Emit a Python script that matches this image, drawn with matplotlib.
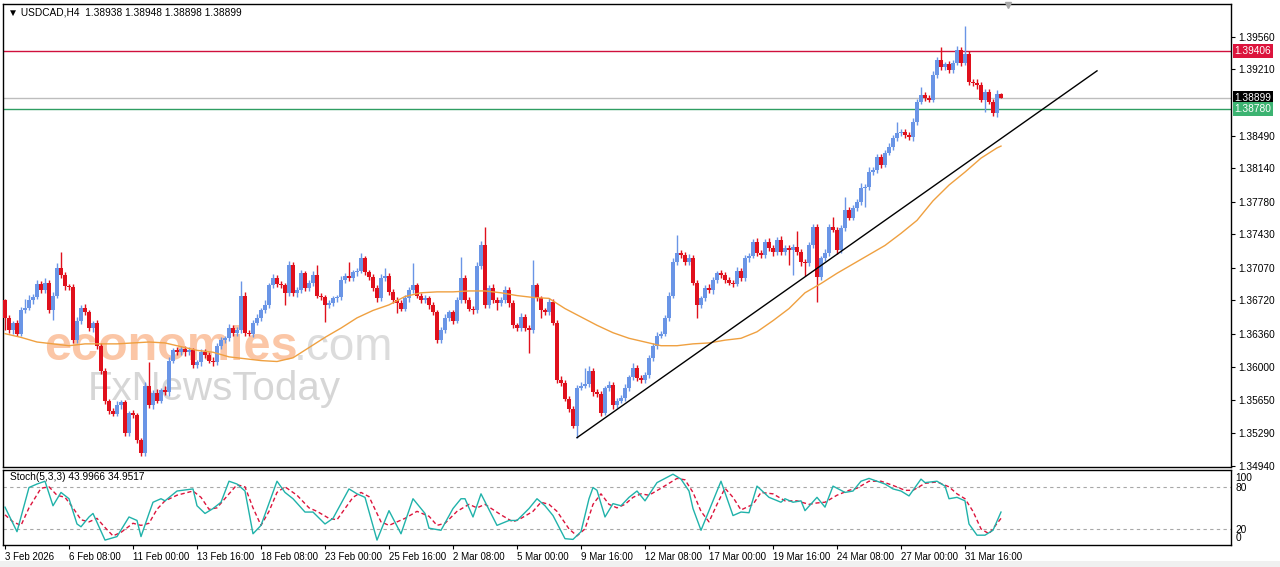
import matplotlib
matplotlib.use("Agg")
import matplotlib.pyplot as plt
from matplotlib.patches import Rectangle

plt.rcParams['font.family'] = ['Liberation Sans', 'DejaVu Sans']

# ---------------- data ----------------
symbol_header = "\u25BC USDCAD,H4  1.38938 1.38948 1.38898 1.38899"
stoch_header = "Stoch(5,3,3) 43.9966 34.9517"

first_open = 1.3672
closes = [
    1.3653, 1.3640, 1.3648, 1.3636, 1.3661, 1.3664, 1.3672, 1.3676, 1.3690, 1.3683,
    1.3691, 1.3661, 1.3677, 1.3707, 1.3699, 1.3687, 1.3686, 1.3629, 1.3650, 1.3664,
    1.3659, 1.3642, 1.3647, 1.3623, 1.3596, 1.3564, 1.3553, 1.3550, 1.3559, 1.3562,
    1.3529, 1.3551, 1.3548, 1.3521, 1.3507, 1.3580, 1.3559, 1.3572, 1.3564, 1.3575,
    1.3573, 1.3607, 1.3618, 1.3616, 1.3620, 1.3616, 1.3618, 1.3602, 1.3605, 1.3616,
    1.3613, 1.3607, 1.3605, 1.3623, 1.3629, 1.3631, 1.3642, 1.3637, 1.3640, 1.3677,
    1.3637, 1.3636, 1.3648, 1.3653, 1.3661, 1.3667, 1.3688, 1.3696, 1.3690, 1.3688,
    1.3680, 1.3710, 1.3680, 1.3683, 1.3701, 1.3685, 1.3691, 1.3699, 1.3677, 1.3675,
    1.3667, 1.3669, 1.3674, 1.3675, 1.3694, 1.3698, 1.3696, 1.3702, 1.3704, 1.3717,
    1.3702, 1.3697, 1.3685, 1.3674, 1.3696, 1.3698, 1.3681, 1.3672, 1.3669, 1.3663,
    1.3674, 1.3683, 1.3688, 1.3677, 1.3672, 1.3674, 1.3667, 1.3659, 1.3629, 1.3640,
    1.3653, 1.3659, 1.3650, 1.3672, 1.3696, 1.3672, 1.3663, 1.3661, 1.3709, 1.3732,
    1.3667, 1.3685, 1.3672, 1.3669, 1.3672, 1.3683, 1.3669, 1.3645, 1.3642, 1.3654,
    1.3642, 1.3640, 1.3688, 1.3674, 1.3661, 1.3659, 1.3670, 1.3648, 1.3586, 1.3583,
    1.3566, 1.3555, 1.3537, 1.3578, 1.3580, 1.3582, 1.3596, 1.3573, 1.3571, 1.3551,
    1.3577, 1.3581, 1.3559, 1.3564, 1.3567, 1.3578, 1.3589, 1.3599, 1.3588, 1.3586,
    1.3591, 1.3610, 1.3623, 1.3634, 1.3636, 1.3653, 1.3677, 1.3713, 1.3723, 1.3721,
    1.3713, 1.3718, 1.3691, 1.3667, 1.3674, 1.3685, 1.3683, 1.3694, 1.3701, 1.3699,
    1.3694, 1.3691, 1.3690, 1.3704, 1.3696, 1.3717, 1.3720, 1.3735, 1.3723, 1.3721,
    1.3735, 1.3728, 1.3724, 1.3737, 1.3724, 1.3728, 1.3726, 1.3729, 1.3724, 1.3713,
    1.3712, 1.3731, 1.3751, 1.3697, 1.3717, 1.3723, 1.3751, 1.3748, 1.3726, 1.3750,
    1.3769, 1.3761, 1.3771, 1.3778, 1.3793, 1.3794, 1.3810, 1.3812, 1.3826, 1.3818,
    1.3831, 1.3837, 1.3847, 1.3852, 1.3853, 1.3850, 1.3848, 1.3864, 1.3886, 1.3893,
    1.3890, 1.3888, 1.3915, 1.3931, 1.3923, 1.3926, 1.3920, 1.3928, 1.3942, 1.3928,
    1.3937, 1.3907, 1.3906, 1.3904, 1.3888, 1.3896, 1.3886, 1.3874, 1.38938, 1.38899,
]
upper_wick_pips = [
    1, 3, 2, 3, 4, 9, 6, 3, 4, 3, 5, 3, 4, 5, 17, 3, 2, 3, 4, 3, 4, 3, 3, 4, 3,
    3, 2, 3, 4, 3, 3, 2, 3, 3, 3, 4, 25, 3, 4, 3, 5, 4, 3, 4, 3, 3, 4, 3, 3, 3,
    3, 3, 4, 3, 3, 3, 4, 3, 3, 16, 4, 3, 3, 4, 3, 5, 3, 4, 3, 3, 3, 4, 3, 3, 4,
    3, 3, 4, 11, 3, 3, 3, 3, 3, 4, 3, 15, 3, 3, 6, 3, 3, 3, 3, 4, 9, 3, 3, 3, 3,
    4, 3, 24, 3, 3, 4, 3, 3, 3, 3, 4, 3, 3, 4, 23, 3, 3, 3, 4, 4, 19, 3, 4, 3, 3,
    4, 3, 3, 3, 4, 3, 3, 27, 3, 3, 3, 4, 3, 3, 4, 3, 3, 3, 3, 4, 17, 5, 3, 3, 3,
    3, 4, 3, 3, 3, 4, 3, 5, 3, 3, 4, 3, 3, 4, 3, 3, 4, 4, 19, 3, 3, 4, 3, 3, 3,
    3, 4, 3, 3, 4, 3, 3, 3, 4, 3, 4, 3, 3, 4, 3, 3, 4, 3, 3, 4, 3, 3, 4, 18, 3,
    3, 4, 3, 3, 3, 4, 3, 11, 3, 3, 14, 3, 4, 3, 5, 3, 5, 3, 4, 3, 3, 4, 3, 12, 3,
    3, 3, 4, 3, 9, 3, 3, 4, 3, 14, 3, 4, 3, 4, 3, 30, 3, 3, 4, 3, 3, 4, 3, 5, 1,
]
lower_wick_pips = [
    13, 3, 4, 3, 3, 3, 3, 4, 3, 3, 3, 3, 10, 3, 3, 4, 3, 3, 3, 4, 3, 3, 4, 3, 3,
    4, 3, 3, 3, 4, 3, 3, 3, 3, 3, 3, 3, 4, 3, 3, 3, 4, 3, 3, 3, 4, 3, 3, 3, 4,
    3, 3, 4, 3, 3, 3, 3, 4, 3, 3, 3, 3, 4, 3, 3, 3, 3, 3, 4, 3, 13, 3, 3, 4, 3,
    3, 3, 4, 3, 3, 18, 3, 3, 4, 3, 3, 3, 3, 4, 3, 3, 3, 3, 4, 3, 3, 3, 3, 11, 3,
    3, 4, 3, 3, 3, 3, 4, 3, 3, 3, 3, 3, 4, 3, 3, 3, 3, 4, 3, 3, 3, 3, 3, 8, 3,
    3, 4, 3, 3, 3, 3, 25, 3, 3, 8, 3, 3, 3, 3, 3, 3, 3, 3, 13, 3, 3, 3, 4, 3, 4,
    3, 3, 4, 3, 3, 3, 4, 3, 3, 3, 3, 3, 3, 4, 3, 3, 3, 3, 3, 4, 3, 3, 3, 14, 3,
    3, 3, 4, 3, 3, 3, 3, 4, 3, 3, 3, 4, 3, 3, 3, 3, 3, 4, 3, 3, 3, 16, 27, 3, 4,
    14, 3, 3, 27, 3, 3, 3, 3, 4, 3, 3, 3, 3, 3, 3, 21, 3, 3, 3, 4, 3, 3, 3, 3, 3,
    3, 3, 4, 3, 3, 3, 3, 3, 4, 3, 3, 3, 3, 3, 4, 3, 3, 3, 4, 3, 13, 3, 4, 5, 0,
]

ma_bars = list(range(0, 249, 4)) + [249]
ma_values = [
    1.3636, 1.3632, 1.3627, 1.3625, 1.3623, 1.3625, 1.3625, 1.3625, 1.3626, 1.3627,
    1.3626, 1.3622, 1.3618, 1.3616, 1.3611, 1.3609, 1.3607, 1.3606, 1.3610, 1.3621,
    1.3632, 1.3642, 1.3653, 1.3661, 1.3667, 1.3676, 1.3680, 1.3681, 1.3681, 1.3682,
    1.3682, 1.3680, 1.3677, 1.3675, 1.3674, 1.3663, 1.3654, 1.3645, 1.3637, 1.3631,
    1.3627, 1.3623, 1.3623, 1.3625, 1.3626, 1.3629, 1.3631, 1.3638, 1.3650, 1.3663,
    1.3680, 1.3690, 1.3701, 1.3711, 1.3721, 1.3731, 1.3744, 1.3758, 1.3779, 1.3796,
    1.3810, 1.3825, 1.3836, 1.3838,
]

trend_bars = [143, 273]
trend_prices = [1.3524, 1.3919]

resistance_level = 1.39406
support_level = 1.38780
last_price = 1.38899

price_ticks = [1.34940, 1.35290, 1.35650, 1.36000, 1.36360, 1.36720, 1.37070,
               1.37430, 1.37780, 1.38140, 1.38490, 1.39210, 1.39560]

date_tick_bars = [0, 16, 32, 48, 64, 80, 96, 112, 128, 144, 160, 176, 192, 208, 224, 240]
date_tick_labels = ["3 Feb 2026", "6 Feb 08:00", "11 Feb 00:00", "13 Feb 16:00",
                    "18 Feb 08:00", "23 Feb 00:00", "25 Feb 16:00", "2 Mar 08:00",
                    "5 Mar 00:00", "9 Mar 16:00", "12 Mar 08:00", "17 Mar 00:00",
                    "19 Mar 16:00", "24 Mar 08:00", "27 Mar 00:00", "31 Mar 16:00"]

stoch_k_bars = [0, 3, 6, 8, 10, 12, 14, 16, 18, 19, 21, 22, 25, 28, 31, 33, 34, 36, 37, 39,
                40, 43, 47, 48, 50, 52, 54, 56, 58, 60, 62, 64, 68, 70, 72, 75, 77, 80, 82, 86,
                88, 90, 93, 96, 99, 102, 105, 106, 109, 112, 114, 115, 117, 119, 123, 126, 128, 131, 133, 135,
                137, 140, 142, 144, 146, 147, 148, 150, 152, 154, 156, 158, 160, 163, 167, 169, 171, 172, 174, 176,
                179, 182, 184, 186, 188, 191, 194, 195, 197, 199, 200, 203, 205, 207, 210, 212, 214, 216, 218, 220,
                222, 224, 226, 229, 230, 233, 235, 236, 238, 240, 241, 243, 245, 247, 249]
stoch_k = [51, 16, 79, 84, 88, 53, 72, 63, 27, 23, 37, 42, 4, 9, 37, 32, 9, 42, 58, 63,
           60, 74, 77, 53, 42, 49, 58, 88, 84, 74, 13, 25, 88, 72, 63, 44, 44, 27, 35, 77,
           70, 65, 4, 46, 13, 63, 42, 21, 18, 49, 63, 63, 37, 70, 25, 32, 32, 49, 63, 53,
           39, 6, 5, 16, 63, 79, 75, 37, 56, 53, 65, 74, 60, 86, 98, 91, 74, 49, 18, 46,
           88, 39, 44, 43, 81, 65, 58, 63, 58, 60, 46, 65, 51, 81, 72, 74, 88, 92, 88, 84,
           77, 74, 67, 91, 86, 88, 81, 63, 65, 60, 27, 11, 11, 18, 44.0]
stoch_d_bars = [0, 2, 4, 6, 9, 11, 13, 15, 17, 19, 21, 23, 25, 27, 29, 32, 34, 36, 38, 40,
                43, 47, 49, 51, 53, 56, 58, 60, 62, 64, 66, 68, 70, 73, 76, 78, 81, 83, 87, 89,
                91, 94, 96, 98, 100, 103, 106, 108, 110, 113, 116, 118, 120, 124, 127, 129, 132, 134, 136, 138,
                141, 143, 145, 147, 149, 151, 153, 155, 157, 159, 161, 164, 168, 170, 172, 174, 176, 178, 180, 182,
                184, 187, 189, 192, 195, 198, 201, 203, 205, 208, 211, 213, 216, 219, 222, 225, 227, 230, 233, 236,
                238, 240, 242, 244, 246, 249]
stoch_d = [40, 30, 25, 50, 78, 80, 68, 65, 50, 33, 30, 35, 22, 10, 15, 28, 25, 28, 48, 60,
           68, 74, 65, 48, 50, 70, 83, 80, 50, 25, 45, 72, 80, 68, 50, 45, 35, 33, 65, 72,
           66, 30, 25, 30, 35, 45, 38, 25, 28, 45, 55, 50, 55, 40, 30, 35, 45, 58, 55, 45,
           20, 10, 20, 55, 70, 55, 50, 55, 65, 70, 68, 78, 92, 90, 72, 45, 30, 55, 78, 65,
           47, 55, 72, 70, 60, 60, 55, 57, 58, 68, 75, 78, 88, 88, 82, 75, 75, 85, 87, 80,
           70, 63, 45, 20, 13, 35.0]

# ---------------- styling ----------------
BULL = '#6A95E6'
BEAR = '#E0101C'
MA_COL = '#EFA040'
W, H = 1280, 567

fig = plt.figure(figsize=(W / 100, H / 100), dpi=100, facecolor='white')
fig.patches.append(Rectangle((0, 0), 1, 6 / H, transform=fig.transFigure,
                             facecolor='#F0F0F0', edgecolor='none', zorder=-5))

L, R = 3, 1231
ax = fig.add_axes([L / W, 1 - 467 / H, (R - L) / W, (467 - 4) / H])
ax2 = fig.add_axes([L / W, 1 - 545 / H, (R - L) / W, (545 - 470) / H])
ax.set_facecolor('none')
fig.patch.set_facecolor('white')

n = len(closes)
bars = list(range(n))
opens = [first_open] + closes[:-1]
highs = [max(o, c) + u / 10000 for o, c, u in zip(opens, closes, upper_wick_pips)]
lows = [min(o, c) - d / 10000 for o, c, d in zip(opens, closes, lower_wick_pips)]
colors = [BULL if c >= o else BEAR for o, c in zip(opens, closes)]

ax.vlines(bars, lows, highs, colors=colors, linewidth=1.0, zorder=2)
bottoms = [min(o, c) for o, c in zip(opens, closes)]
heights = [max(abs(c - o), 0.00008) for o, c in zip(opens, closes)]
ax.bar(bars, heights, bottom=bottoms, width=0.78, color=colors, linewidth=0, zorder=3)

ax.plot(ma_bars, ma_values, color=MA_COL, linewidth=1.0, zorder=4)
ax.plot(trend_bars, trend_prices, color='black', linewidth=1.0, zorder=5)

ax.axhline(resistance_level, color='#D0103C', linewidth=1.0, zorder=1)
ax.axhline(last_price, color='#BDBDBD', linewidth=1.0, zorder=1)
ax.axhline(support_level, color='#2E9E62', linewidth=1.0, zorder=1)

ax.set_xlim(-0.5, 306.5)
ax.set_ylim(1.34924, 1.39910)
ax.set_xticks([])
ax.yaxis.tick_right()
ax.set_yticks(price_ticks)
ax.set_yticklabels([f"{v:.5f}" for v in price_ticks])
ax.tick_params(axis='y', direction='out', length=3, width=0.8, pad=2, labelsize=7.3, colors='black')
for s in ax.spines.values():
    s.set_color('black')
    s.set_linewidth(1.0)

for val, txt, bg in [(resistance_level, '1.39406', '#DC143C'),
                     (last_price, '1.38899', 'black'),
                     (support_level, '1.38780', '#3CB371')]:
    ax.annotate(txt, xy=(1.0, val), xycoords=('axes fraction', 'data'),
                xytext=(2.5, 0), textcoords='offset points', ha='left', va='center',
                fontsize=7.3, color='white', annotation_clip=False, zorder=10,
                bbox=dict(boxstyle='square,pad=0.18', fc=bg, ec='none'))

# chart-shift marker
ax.plot([250.8], [1.39895], marker='v', color='#A8A8A8', markersize=5, clip_on=False, zorder=6)

fig.text(8 / W, 1 - 12.5 / H, symbol_header, fontsize=7.3, va='center', ha='left', color='black')

# watermark (behind the candles)
wm = dict(va='baseline', ha='left', zorder=0.5, transform=ax.transAxes)
def fx(px):
    return (px - L) / (R - L)
def fy(py):
    return (467 - py) / (467 - 4)
ax.text(fx(44), fy(360), "economies", fontsize=35, fontweight='bold', color='#FBC6A6', **wm)
ax.text(fx(294), fy(360), ".com", fontsize=33, color='#DCDCDC', **wm)
ax.text(fx(88), fy(400), "FxNewsToday", fontsize=29, color='#D6D6D6', **wm)

# ---------------- stochastic panel ----------------
ax2.plot(stoch_k_bars, stoch_k, color='#20B2AA', linewidth=1.0, zorder=3)
ax2.plot(stoch_d_bars, stoch_d, color='#DC143C', linewidth=1.0, linestyle=(0, (3, 2)), zorder=2)
for lvl in (20, 80):
    ax2.axhline(lvl, color='#A8A8A8', linewidth=0.8, linestyle=(0, (3, 3)), zorder=1)
ax2.set_xlim(-0.5, 306.5)
ax2.set_ylim(-3, 104)
ax2.yaxis.tick_right()
ax2.set_yticks([0, 20, 80, 100])
ax2.set_yticklabels(['0', '20', '80', '100'])
ax2.tick_params(axis='y', length=0, pad=3, labelsize=7.3)
ylabs = ax2.get_yticklabels()
ylabs[0].set_verticalalignment('bottom')
ylabs[3].set_verticalalignment('top')
ax2.set_xticks(date_tick_bars)
ax2.set_xticklabels(date_tick_labels)
ax2.tick_params(axis='x', direction='out', length=3, width=0.8, pad=2, labelsize=7.0)
for lbl in ax2.get_xticklabels():
    lbl.set_horizontalalignment('left')
for s in ax2.spines.values():
    s.set_color('black')
    s.set_linewidth(1.0)
ax2.text(0.006, 0.9, stoch_header, transform=ax2.transAxes, fontsize=7.3,
         ha='left', va='center', color='black')

fig.savefig('out.png', dpi=100, facecolor='white')
